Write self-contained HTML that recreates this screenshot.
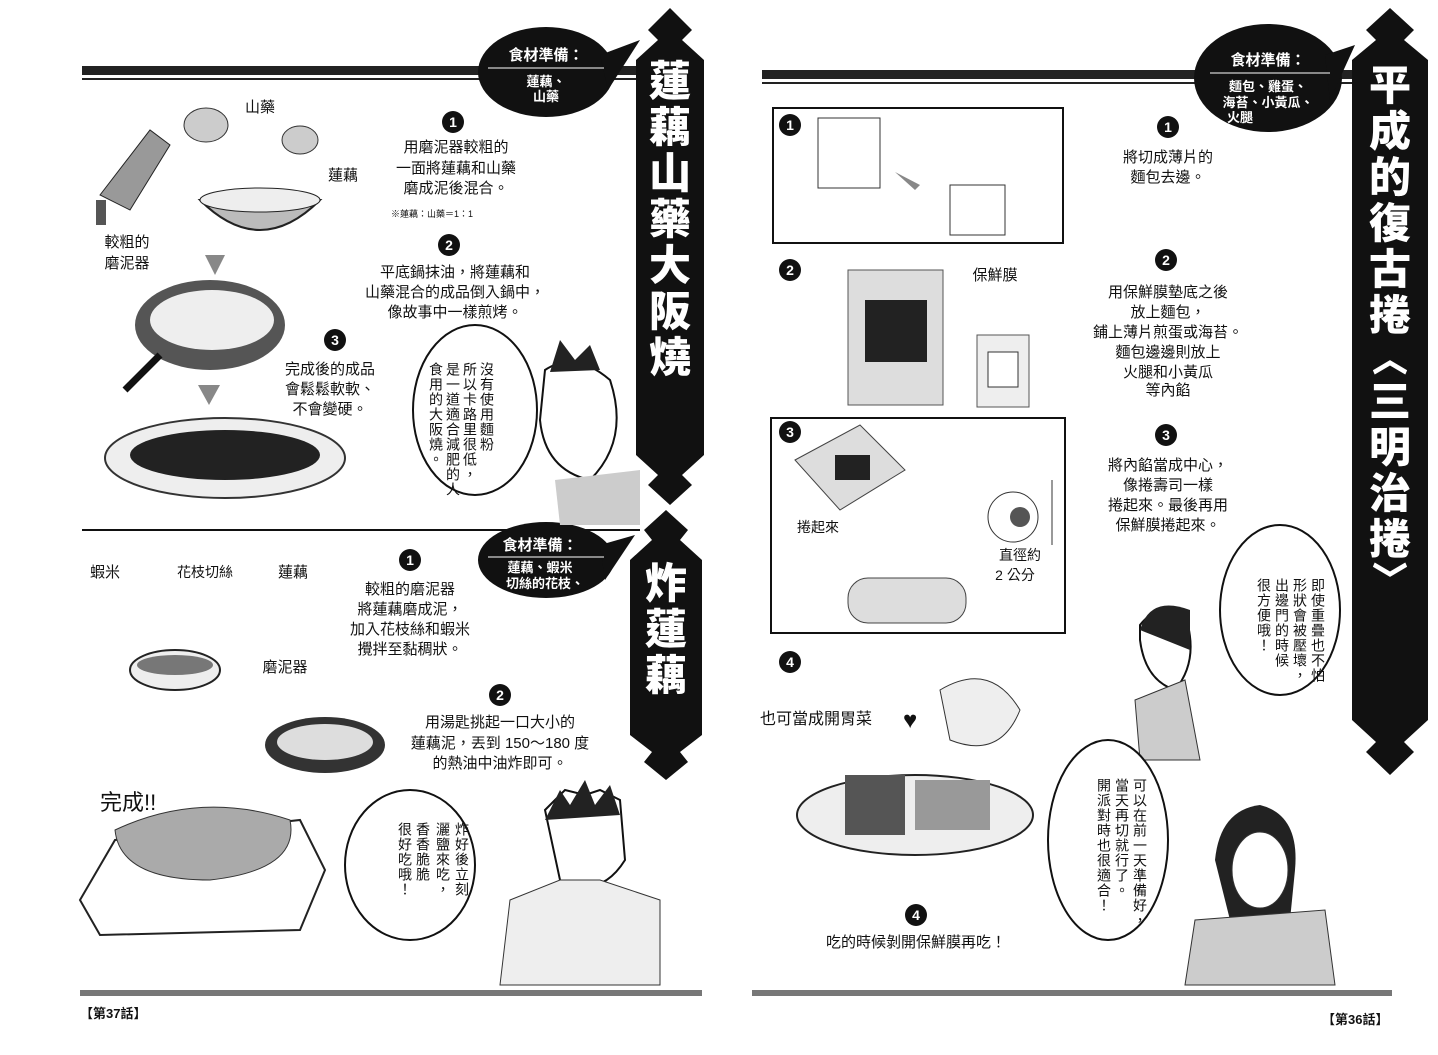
<!DOCTYPE html>
<html><head><meta charset="utf-8"><style>
html,body{margin:0;padding:0;background:#fff;}
svg{display:block;}
text{font-family:"Liberation Sans","Noto Sans CJK TC",sans-serif;fill:#111;}
.t{font-size:15px;text-anchor:middle;}
.w{fill:#fff;font-weight:bold;}
.b{font-family:"Noto Sans CJK TC",sans-serif;font-weight:900;fill:#fff;font-size:42px;text-anchor:middle;}
.num{fill:#fff;font-size:14px;font-weight:bold;text-anchor:middle;}
.vt{writing-mode:tb;font-family:"Noto Sans CJK TC",sans-serif;font-size:14px;text-anchor:start;letter-spacing:1px;}
</style></head><body>
<svg width="1438" height="1055" viewBox="0 0 1438 1055" xmlns="http://www.w3.org/2000/svg">
<rect width="1438" height="1055" fill="#fff"/>
<!-- rules -->
<rect x="82" y="66" width="560" height="9" fill="#222"/>
<rect x="82" y="78" width="560" height="2" fill="#222"/>
<line x1="82" y1="530" x2="640" y2="530" stroke="#111" stroke-width="2"/>
<rect x="80" y="990" width="622" height="6" fill="#777"/>
<rect x="762" y="70" width="595" height="9" fill="#222"/>
<rect x="762" y="82" width="595" height="2" fill="#222"/>
<rect x="752" y="990" width="640" height="6" fill="#777"/>
<!-- left banners -->
<polygon points="670,8 692,30 682,40 704,60 704,455 682,475 692,485 670,505 648,485 658,475 636,455 636,60 658,40 648,30" fill="#111"/>
<text x="670" y="96" class="b">蓮</text><text x="670" y="142" class="b">藕</text><text x="670" y="188" class="b">山</text><text x="670" y="234" class="b">藥</text><text x="670" y="280" class="b">大</text><text x="670" y="326" class="b">阪</text><text x="670" y="372" class="b">燒</text>
<polygon points="666,510 688,530 680,540 702,560 702,735 680,752 688,762 666,780 644,762 652,752 630,735 630,560 652,540 644,530" fill="#111"/>
<text x="666" y="598" class="b">炸</text><text x="666" y="644" class="b">蓮</text><text x="666" y="690" class="b">藕</text>
<!-- right banner -->
<polygon points="1390,8 1414,30 1404,40 1428,60 1428,720 1404,742 1414,752 1390,775 1366,752 1376,742 1352,720 1352,60 1376,40 1366,30" fill="#111"/>
<text x="1390" y="100" class="b">平</text><text x="1390" y="146" class="b">成</text><text x="1390" y="192" class="b">的</text><text x="1390" y="238" class="b">復</text><text x="1390" y="284" class="b">古</text><text x="1390" y="330" class="b">捲</text><text x="1390" y="372" class="b" style="font-size:36px">︿</text><text x="1390" y="416" class="b">三</text><text x="1390" y="462" class="b">明</text><text x="1390" y="508" class="b">治</text><text x="1390" y="554" class="b">捲</text><text x="1390" y="592" class="b" style="font-size:36px">﹀</text>
<!-- black bubbles -->
<ellipse cx="546" cy="72" rx="68" ry="45" fill="#111"/><polygon points="600,55 640,40 608,90" fill="#111"/>
<text x="546" y="60" class="t w">食材準備：</text><line x1="488" y1="68" x2="604" y2="68" stroke="#fff"/>
<text x="546" y="86" class="t w" style="font-size:13px">蓮藕、</text><text x="546" y="101" class="t w" style="font-size:13px">山藥</text>
<ellipse cx="546" cy="560" rx="68" ry="38" fill="#111"/><polygon points="600,545 635,535 605,580" fill="#111"/>
<text x="540" y="550" class="t w">食材準備：</text><line x1="488" y1="557" x2="604" y2="557" stroke="#fff"/>
<text x="540" y="572" class="t w" style="font-size:13px">蓮藕、蝦米</text><text x="545" y="588" class="t w" style="font-size:13px">切絲的花枝、</text>
<ellipse cx="1268" cy="78" rx="74" ry="54" fill="#111"/><polygon points="1325,55 1355,45 1330,100" fill="#111"/>
<text x="1268" y="65" class="t w">食材準備：</text><line x1="1210" y1="73" x2="1330" y2="73" stroke="#fff"/>
<text x="1268" y="91" class="t w" style="font-size:13px">麵包、雞蛋、</text><text x="1268" y="107" class="t w" style="font-size:13px">海苔、小黃瓜、</text><text x="1240" y="122" class="t w" style="font-size:13px">火腿</text>
<!-- number circles -->
<g>
<circle cx="453" cy="122" r="11" fill="#111"/><text x="453" y="127" class="num">1</text>
<circle cx="449" cy="245" r="11" fill="#111"/><text x="449" y="250" class="num">2</text>
<circle cx="335" cy="340" r="11" fill="#111"/><text x="335" y="345" class="num">3</text>
<circle cx="410" cy="560" r="11" fill="#111"/><text x="410" y="565" class="num">1</text>
<circle cx="500" cy="695" r="11" fill="#111"/><text x="500" y="700" class="num">2</text>
<circle cx="790" cy="125" r="11" fill="#111"/><text x="790" y="130" class="num">1</text>
<circle cx="1168" cy="127" r="11" fill="#111"/><text x="1168" y="132" class="num">1</text>
<circle cx="790" cy="270" r="11" fill="#111"/><text x="790" y="275" class="num">2</text>
<circle cx="1166" cy="260" r="11" fill="#111"/><text x="1166" y="265" class="num">2</text>
<circle cx="790" cy="432" r="11" fill="#111"/><text x="790" y="437" class="num">3</text>
<circle cx="1166" cy="435" r="11" fill="#111"/><text x="1166" y="440" class="num">3</text>
<circle cx="790" cy="662" r="11" fill="#111"/><text x="790" y="667" class="num">4</text>
<circle cx="916" cy="915" r="11" fill="#111"/><text x="916" y="920" class="num">4</text>
</g>
<!-- left texts -->
<text x="260" y="112" class="t">山藥</text><text x="343" y="180" class="t">蓮藕</text>
<text x="127" y="247" class="t">較粗的</text><text x="127" y="268" class="t">磨泥器</text>
<text x="456" y="152" class="t">用磨泥器較粗的</text><text x="456" y="173" class="t">一面將蓮藕和山藥</text><text x="456" y="193" class="t">磨成泥後混合。</text>
<text x="432" y="217" class="t" style="font-size:9px">※蓮藕：山藥＝1：1</text>
<text x="455" y="277" class="t">平底鍋抹油，將蓮藕和</text><text x="455" y="297" class="t">山藥混合的成品倒入鍋中，</text><text x="455" y="317" class="t">像故事中一樣煎烤。</text>
<text x="330" y="374" class="t">完成後的成品</text><text x="330" y="394" class="t">會鬆鬆軟軟、</text><text x="330" y="414" class="t">不會變硬。</text>
<text x="105" y="577" class="t">蝦米</text><text x="205" y="577" class="t" style="font-size:14px">花枝切絲</text><text x="293" y="577" class="t">蓮藕</text><text x="285" y="672" class="t">磨泥器</text>
<text x="410" y="594" class="t">較粗的磨泥器</text><text x="410" y="614" class="t">將蓮藕磨成泥，</text><text x="410" y="634" class="t">加入花枝絲和蝦米</text><text x="410" y="654" class="t">攪拌至黏稠狀。</text>
<text x="500" y="727" class="t">用湯匙挑起一口大小的</text><text x="500" y="748" class="t">蓮藕泥，丟到 150～180 度</text><text x="500" y="768" class="t">的熱油中油炸即可。</text>
<text x="100" y="810" style="font-size:22px">完成!!</text>
<!-- right texts -->
<text x="1168" y="162" class="t">將切成薄片的</text><text x="1168" y="182" class="t">麵包去邊。</text>
<text x="995" y="280" class="t">保鮮膜</text>
<text x="1168" y="297" class="t">用保鮮膜墊底之後</text><text x="1168" y="317" class="t">放上麵包，</text><text x="1168" y="337" class="t">鋪上薄片煎蛋或海苔。</text><text x="1168" y="357" class="t">麵包邊邊則放上</text><text x="1168" y="377" class="t">火腿和小黃瓜</text><text x="1168" y="395" class="t">等內餡</text>
<text x="818" y="532" class="t" style="font-size:14px">捲起來</text><text x="1020" y="560" class="t" style="font-size:14px">直徑約</text><text x="1015" y="580" class="t" style="font-size:14px">2 公分</text>
<text x="1168" y="470" class="t">將內餡當成中心，</text><text x="1168" y="490" class="t">像捲壽司一樣</text><text x="1168" y="510" class="t">捲起來。最後再用</text><text x="1168" y="530" class="t">保鮮膜捲起來。</text>
<text x="760" y="724" style="font-size:16px">也可當成開胃菜</text><text x="903" y="728" style="font-size:24px">♥</text>
<text x="916" y="947" class="t">吃的時候剝開保鮮膜再吃！</text>
<text x="80" y="1018" style="font-size:13px;font-weight:bold">【第37話】</text><text x="1322" y="1024" style="font-size:13px;font-weight:bold">【第36話】</text>
<!-- boxes -->
<rect x="773" y="108" width="290" height="135" fill="none" stroke="#111" stroke-width="2"/>
<rect x="818" y="118" width="62" height="70" fill="none" stroke="#333"/>
<rect x="950" y="185" width="55" height="50" fill="none" stroke="#333"/>
<polygon points="895,172 920,185 915,190" fill="#888"/>
<rect x="771" y="418" width="294" height="215" fill="none" stroke="#111" stroke-width="2"/>
<rect x="848" y="270" width="95" height="135" fill="#ddd" stroke="#555"/><rect x="865" y="300" width="62" height="62" fill="#222"/>
<rect x="977" y="335" width="52" height="72" fill="#eee" stroke="#555"/><rect x="988" y="352" width="30" height="35" fill="#fff" stroke="#333"/>
<polygon points="795,460 860,425 905,470 840,510" fill="#ddd" stroke="#444"/><rect x="835" y="455" width="35" height="25" fill="#222"/>
<circle cx="1013" cy="517" r="25" fill="#fff" stroke="#333"/><circle cx="1020" cy="517" r="10" fill="#555"/>
<line x1="1052" y1="480" x2="1052" y2="545" stroke="#333"/>
<rect x="848" y="578" width="118" height="45" rx="20" fill="#ddd" stroke="#444"/>
<!-- left drawings -->
<polygon points="100,195 150,130 170,145 130,210" fill="#999" stroke="#222"/><rect x="96" y="200" width="10" height="25" fill="#555"/>
<ellipse cx="206" cy="125" rx="22" ry="17" fill="#ccc" stroke="#333"/><ellipse cx="300" cy="140" rx="18" ry="14" fill="#ccc" stroke="#333"/>
<path d="M200,200 Q260,260 320,200 Z" fill="#bbb" stroke="#222" stroke-width="2"/><ellipse cx="260" cy="200" rx="60" ry="12" fill="#eee" stroke="#222"/>
<polygon points="205,255 225,255 215,275" fill="#888"/>
<ellipse cx="210" cy="325" rx="75" ry="45" fill="#555"/><ellipse cx="212" cy="320" rx="62" ry="30" fill="#eee"/>
<line x1="160" y1="355" x2="125" y2="390" stroke="#111" stroke-width="7"/>
<polygon points="198,385 220,385 209,405" fill="#888"/>
<ellipse cx="225" cy="458" rx="120" ry="40" fill="#eee" stroke="#333" stroke-width="2"/><ellipse cx="225" cy="455" rx="95" ry="25" fill="#222"/>
<ellipse cx="475" cy="410" rx="62" ry="85" fill="#fff" stroke="#111" stroke-width="2"/>
<path d="M545,370 Q575,350 610,380 Q630,440 590,480 Q545,470 540,420 Z" fill="#fff" stroke="#111" stroke-width="2"/><path d="M550,372 L560,340 L575,360 L590,345 L600,370 Z" fill="#222"/>
<path d="M555,480 L640,470 L640,525 L560,525 Z" fill="#ccc"/>
<ellipse cx="175" cy="670" rx="45" ry="20" fill="#eee" stroke="#222" stroke-width="2"/><ellipse cx="175" cy="665" rx="38" ry="10" fill="#777"/>
<ellipse cx="325" cy="745" rx="60" ry="28" fill="#333"/><ellipse cx="325" cy="742" rx="48" ry="18" fill="#ddd"/>
<polygon points="80,900 115,840 300,820 325,870 300,930 100,935" fill="#fff" stroke="#222" stroke-width="2"/>
<path d="M115,830 Q200,790 290,820 Q300,870 210,880 Q120,880 115,830Z" fill="#aaa" stroke="#333"/>
<ellipse cx="410" cy="865" rx="65" ry="75" fill="#fff" stroke="#111" stroke-width="2"/>
<path d="M545,810 L565,790 L585,795 L600,790 L620,800 L625,860 Q600,900 560,880 Z" fill="#fff" stroke="#111" stroke-width="2"/><path d="M545,820 L560,790 L570,805 L585,780 L595,805 L610,785 L620,815 Z" fill="#222"/>
<path d="M510,900 L560,880 L600,880 L660,900 L660,985 L500,985 Z" fill="#eee" stroke="#333"/>
<!-- right characters & food -->
<ellipse cx="1280" cy="610" rx="60" ry="85" fill="#fff" stroke="#111" stroke-width="2"/>
<path d="M1140,625 Q1160,600 1185,615 Q1200,660 1175,690 Q1145,680 1140,640Z" fill="#fff" stroke="#111" stroke-width="2"/><path d="M1140,630 Q1150,595 1190,610 L1190,650 Z" fill="#222"/>
<path d="M1135,700 L1185,680 L1200,760 L1140,760Z" fill="#ccc" stroke="#333"/>
<ellipse cx="1108" cy="840" rx="60" ry="100" fill="#fff" stroke="#111" stroke-width="2"/>
<path d="M1215,860 Q1220,810 1260,805 Q1300,815 1295,870 L1290,920 L1230,920 Z" fill="#222"/><ellipse cx="1260" cy="870" rx="28" ry="38" fill="#fff" stroke="#333"/>
<path d="M1185,985 L1195,920 L1325,910 L1335,985Z" fill="#ccc" stroke="#333"/>
<path d="M940,690 Q990,660 1020,710 Q1000,760 950,740 Z" fill="#eee" stroke="#333"/>
<ellipse cx="915" cy="815" rx="118" ry="40" fill="#eee" stroke="#222" stroke-width="2"/>
<rect x="845" y="775" width="60" height="60" fill="#555"/><rect x="915" y="780" width="75" height="50" fill="#999"/>
<!-- vertical bubble text -->
<text x="487" y="362" class="vt">沒有使用麵粉</text>
<text x="470" y="362" class="vt">所以卡路里很低，</text>
<text x="453" y="362" class="vt">是一道適合減肥的人</text>
<text x="436" y="362" class="vt">食用的大阪燒。</text>
<text x="462" y="822" class="vt">炸好後立刻</text>
<text x="443" y="822" class="vt">灑鹽來吃，</text>
<text x="423" y="822" class="vt">香香脆脆</text>
<text x="405" y="822" class="vt">很好吃哦！</text>
<text x="1318" y="578" class="vt">即使重疊也不怕</text>
<text x="1300" y="578" class="vt">形狀會被壓壞，</text>
<text x="1282" y="578" class="vt">出邊門的時候</text>
<text x="1264" y="578" class="vt">很方便哦！</text>
<text x="1140" y="778" class="vt">可以在前一天準備好，</text>
<text x="1122" y="778" class="vt">當天再切就行了。</text>
<text x="1104" y="778" class="vt">開派對時也很適合！</text>
</svg>
</body></html>
